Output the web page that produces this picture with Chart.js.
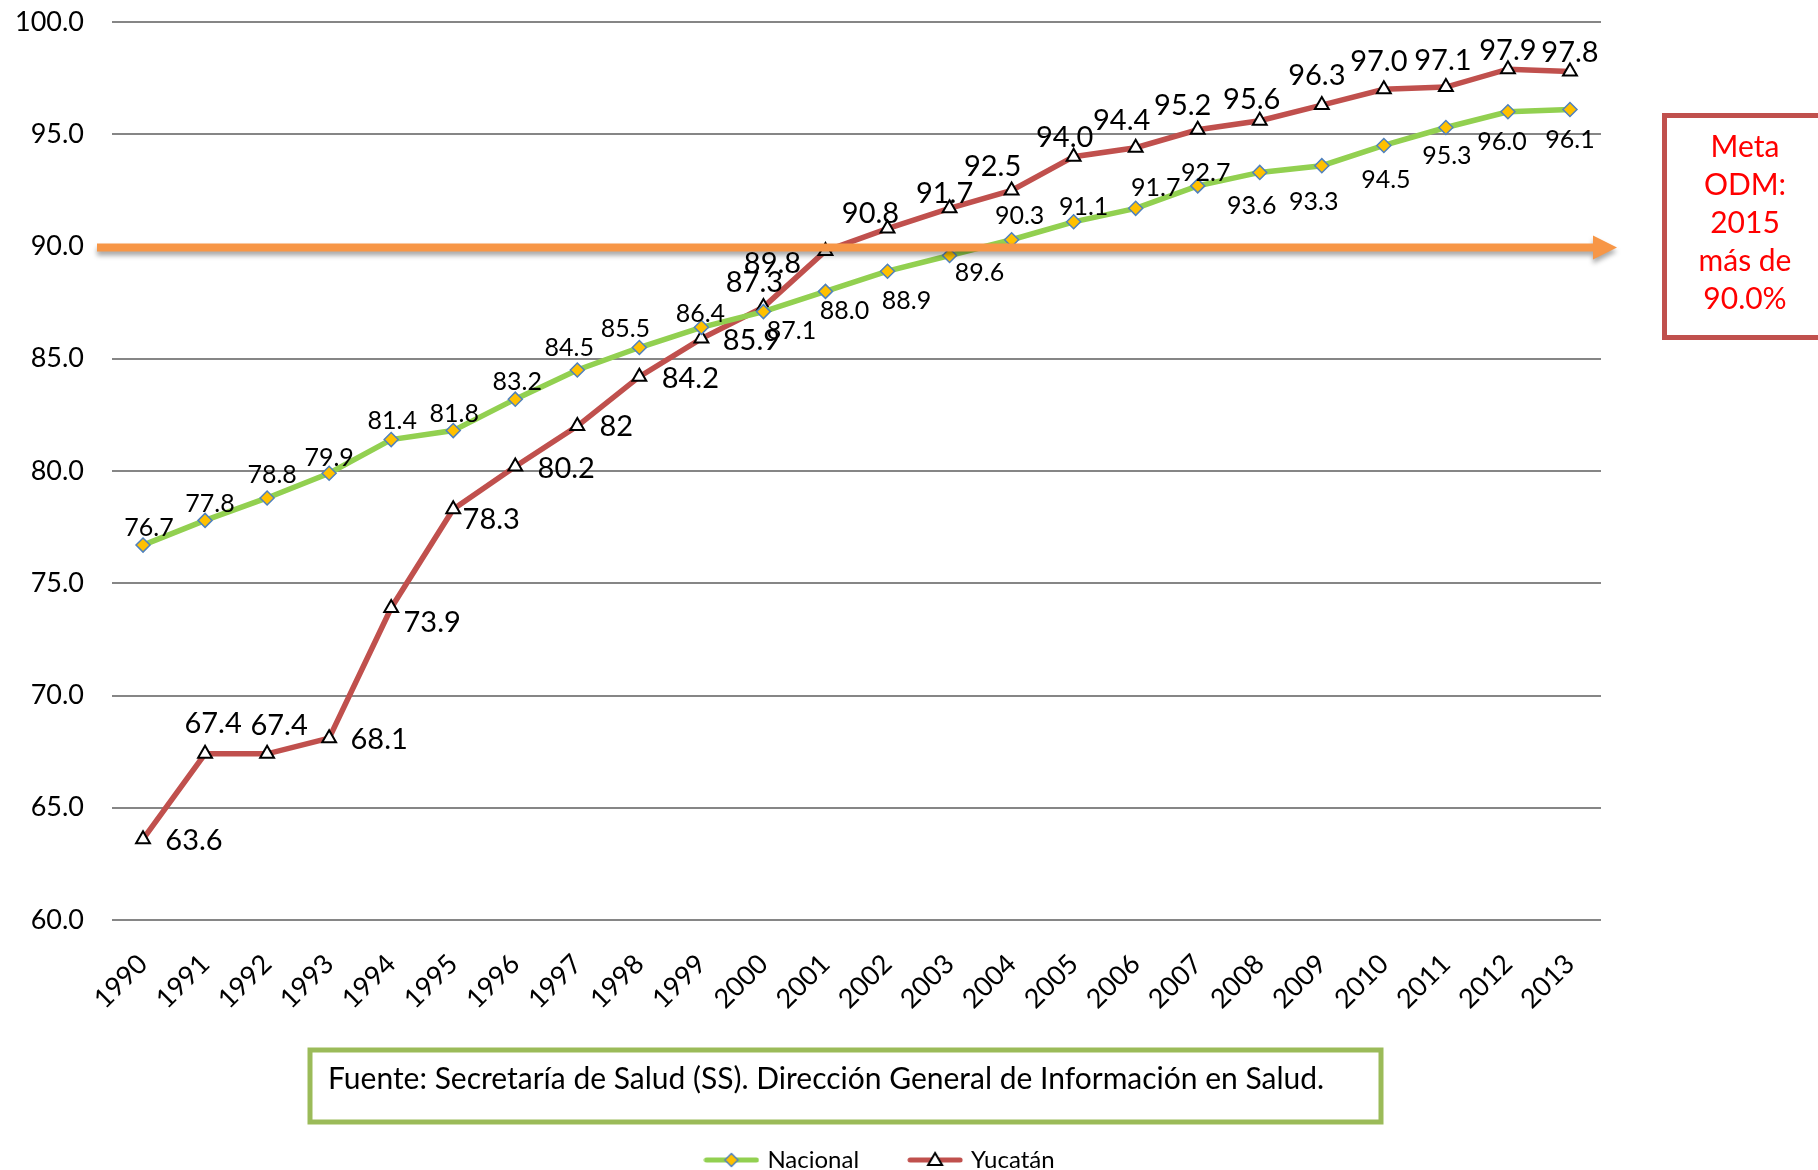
<!DOCTYPE html>
<html>
<head>
<meta charset="utf-8">
<script src="https://cdn.jsdelivr.net/npm/chart.js@4.4.1/dist/chart.umd.min.js"></script>
<style>
  html, body { margin: 0; padding: 0; background: #fff; }
</style>
</head>
<body>
<canvas id="coberturaChart" width="1818" height="1170"></canvas>
<script>
// Datos
const years = ['1990', '1991', '1992', '1993', '1994', '1995', '1996', '1997', '1998', '1999', '2000', '2001',
               '2002', '2003', '2004', '2005', '2006', '2007', '2008', '2009', '2010', '2011', '2012', '2013'];
const nacional = [76.7, 77.8, 78.8, 79.9, 81.4, 81.8, 83.2, 84.5, 85.5, 86.4, 87.1, 88.0,
                  88.9, 89.6, 90.3, 91.1, 91.7, 92.7, 93.3, 93.6, 94.5, 95.3, 96.0, 96.1];
const yucatan = [63.6, 67.4, 67.4, 68.1, 73.9, 78.3, 80.2, 82, 84.2, 85.9, 87.3, 89.8,
                 90.8, 91.7, 92.5, 94.0, 94.4, 95.2, 95.6, 96.3, 97.0, 97.1, 97.9, 97.8];
// etiquetas tal como aparecen en la grafica original
const nacionalLabels = ['76.7', '77.8', '78.8', '79.9', '81.4', '81.8', '83.2', '84.5', '85.5', '86.4', '87.1', '88.0',
                        '88.9', '89.6', '90.3', '91.1', '91.7', '92.7', '93.6', '93.3', '94.5', '95.3', '96.0', '96.1'];
const yucatanLabels = ['63.6', '67.4', '67.4', '68.1', '73.9', '78.3', '80.2', '82', '84.2', '85.9', '87.3', '89.8',
                       '90.8', '91.7', '92.5', '94.0', '94.4', '95.2', '95.6', '96.3', '97.0', '97.1', '97.9', '97.8'];
const yMin = 60;
const yMax = 100;
const yStep = 5;
const metaValue = 90.0;
const metaText = ['Meta', 'ODM:', '2015', 'más de', '90.0%'];
const fuente = 'Fuente: Secretaría de Salud (SS). Dirección General de Información en Salud.';

// Posicion de cada etiqueta respecto a su punto (px)
const nacionalLabelPos = [[6, -17], [5, -16], [5, -23], [0, -15], [1, -19], [1, -17], [2, -17], [-8, -22],
                          [-14, -19], [-1, -13], [28, 19], [19, 20], [19, 30], [30, 17], [8, -24], [10, -15],
                          [20, -20], [8, -13], [-8, 34], [-8, 36], [2, 34], [1, 28], [-6, 30], [0, 30]];
const yucatanLabelPos = [[51, 1], [8, -30], [12, -28], [50, 1], [41, 15], [38, 10], [51, 2], [39, 1],
                         [51, 2], [50, 2], [-9, -24], [-53, 13], [-17, -15], [-5, -15], [-19, -24], [-9, -19],
                         [-14, -27], [-15, -24], [-8, -21], [-5, -29], [-5, -28], [-3, -26], [0, -19], [0, -19]];

const fontFamily = 'Lato, "Open Sans", sans-serif';
const verde = '#92d050';
const rojo = '#c0504d';
const naranja = '#f79646';

// marcador de leyenda: linea con el simbolo en medio
function legendIcon(lineColor, drawMarker) {
    const c = document.createElement('canvas');
    c.width = 56;
    c.height = 20;
    const g = c.getContext('2d');
    g.strokeStyle = lineColor;
    g.lineWidth = 5;
    g.lineCap = 'round';
    g.beginPath();
    g.moveTo(3, 10);
    g.lineTo(53, 10);
    g.stroke();
    drawMarker(g, 28, 10);
    return c;
}

const iconNacional = legendIcon(verde, (g, x, y) => {
    g.beginPath();
    g.moveTo(x, y - 6.5);
    g.lineTo(x + 6.5, y);
    g.lineTo(x, y + 6.5);
    g.lineTo(x - 6.5, y);
    g.closePath();
    g.fillStyle = '#ffc000';
    g.fill();
    g.strokeStyle = '#4f81bd';
    g.lineWidth = 1.5;
    g.stroke();
});
const iconYucatan = legendIcon(rojo, (g, x, y) => {
    g.beginPath();
    g.moveTo(x, y - 7);
    g.lineTo(x + 7, y + 5);
    g.lineTo(x - 7, y + 5);
    g.closePath();
    g.fillStyle = '#fff';
    g.fill();
    g.strokeStyle = '#000';
    g.lineWidth = 2;
    g.stroke();
});

// etiquetas de datos
const dataLabels = {
    id: 'dataLabels',
    afterDatasetsDraw(chart) {
        const ctx = chart.ctx;
        const sets = [
            { texts: nacionalLabels, pos: nacionalLabelPos, size: 25 },
            { texts: yucatanLabels, pos: yucatanLabelPos, size: 29 }
        ];
        ctx.save();
        ctx.fillStyle = '#000';
        ctx.textAlign = 'center';
        ctx.textBaseline = 'middle';
        sets.forEach((s, i) => {
            const meta = chart.getDatasetMeta(i);
            ctx.font = s.size + 'px ' + fontFamily;
            meta.data.forEach((pt, j) => {
                ctx.fillText(s.texts[j], pt.x + s.pos[j][0], pt.y + s.pos[j][1]);
            });
        });
        ctx.restore();
    }
};

// flecha de la meta ODM, encima de las lineas
const metaArrow = {
    id: 'metaArrow',
    afterDatasetsDraw(chart) {
        const ctx = chart.ctx;
        const y = chart.scales.y.getPixelForValue(metaValue) + 1;
        const x0 = 97, x1 = 1593, tip = 1617;
        ctx.save();
        ctx.shadowColor = 'rgba(0,0,0,0.35)';
        ctx.shadowBlur = 5;
        ctx.shadowOffsetY = 4;
        ctx.fillStyle = naranja;
        ctx.beginPath();
        ctx.moveTo(x0, y - 4);
        ctx.lineTo(x1, y - 4);
        ctx.lineTo(x1, y - 12);
        ctx.lineTo(tip, y);
        ctx.lineTo(x1, y + 12);
        ctx.lineTo(x1, y + 4);
        ctx.lineTo(x0, y + 4);
        ctx.closePath();
        ctx.fill();
        ctx.restore();
    }
};

// cuadros de texto: meta y fuente
const textBoxes = {
    id: 'textBoxes',
    afterDraw(chart) {
        const ctx = chart.ctx;
        ctx.save();
        ctx.lineWidth = 5;
        ctx.strokeStyle = rojo;
        ctx.strokeRect(1664.5, 115.5, 200, 222);
        ctx.fillStyle = '#ff0000';
        ctx.font = '30px ' + fontFamily;
        ctx.textAlign = 'center';
        ctx.textBaseline = 'middle';
        metaText.forEach((t, i) => ctx.fillText(t, 1745, 147 + i * 38));

        ctx.strokeStyle = '#9bbb59';
        ctx.strokeRect(310, 1050, 1071, 72);
        ctx.fillStyle = '#000';
        ctx.font = '30px ' + fontFamily;
        ctx.textAlign = 'left';
        ctx.textBaseline = 'alphabetic';
        ctx.fillText(fuente, 328, 1089);
        ctx.restore();
    }
};

const ctx = document.getElementById('coberturaChart').getContext('2d');

new Chart(ctx, {
    type: 'line',
    data: {
        labels: years,
        datasets: [
            {
                label: 'Nacional',
                data: nacional,
                borderColor: verde,
                borderWidth: 5.5,
                pointStyle: 'rectRot',
                pointRadius: 7,
                pointBackgroundColor: '#ffc000',
                pointBorderColor: '#4f81bd',
                pointBorderWidth: 1.5,
                tension: 0
            },
            {
                label: 'Yucatán',
                data: yucatan,
                borderColor: rojo,
                borderWidth: 5.5,
                pointStyle: 'triangle',
                pointRadius: 8,
                pointBackgroundColor: '#fff',
                pointBorderColor: '#000',
                pointBorderWidth: 2,
                tension: 0
            }
        ]
    },
    options: {
        responsive: false,
        animation: false,
        devicePixelRatio: 1,
        layout: {
            padding: { left: 0, right: 56, top: 22, bottom: -12 }
        },
        plugins: {
            legend: {
                position: 'bottom',
                labels: {
                    usePointStyle: true,
                    pointStyleWidth: 48,
                    padding: 52,
                    color: '#000',
                    font: { family: fontFamily, size: 24 },
                    generateLabels: () => [
                        { text: 'Nacional', pointStyle: iconNacional, datasetIndex: 0, lineWidth: 0 },
                        { text: 'Yucatán', pointStyle: iconYucatan, datasetIndex: 1, lineWidth: 0 }
                    ]
                }
            },
            tooltip: { enabled: false }
        },
        scales: {
            x: {
                offset: true,
                grid: { display: false },
                border: { display: false },
                ticks: {
                    minRotation: 45,
                    maxRotation: 45,
                    padding: 20,
                    color: '#000',
                    font: { family: fontFamily, size: 27 }
                },
                afterFit(scale) { scale.height = 176; }
            },
            y: {
                min: yMin,
                max: yMax,
                border: { display: false },
                grid: { color: '#868686', lineWidth: 2, drawTicks: false },
                ticks: {
                    stepSize: yStep,
                    padding: 28,
                    color: '#000',
                    font: { family: fontFamily, size: 27 },
                    callback: v => v.toFixed(1)
                },
                afterFit(scale) {
                    scale.width = 112;
                    scale.paddingTop = 0;
                    scale.paddingBottom = 0;
                }
            },
            // eje vacio para dejar sitio al cuadro de la meta
            y2: {
                position: 'right',
                display: true,
                grid: { display: false },
                border: { display: false },
                ticks: { display: false },
                afterFit(scale) {
                    scale.width = 161;
                    scale.paddingTop = 0;
                    scale.paddingBottom = 0;
                }
            }
        }
    },
    plugins: [dataLabels, metaArrow, textBoxes]
});
</script>
</body>
</html>
